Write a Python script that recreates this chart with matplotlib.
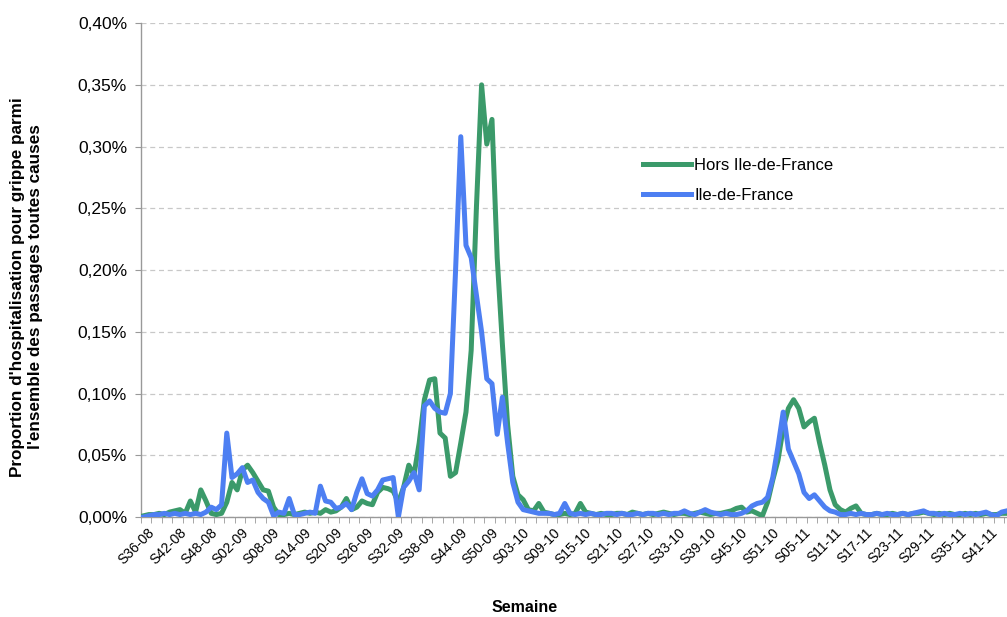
import matplotlib

matplotlib.use("Agg")
import matplotlib.pyplot as plt
from matplotlib.ticker import FuncFormatter, FixedLocator
import matplotlib.transforms as mtransforms

plt.rcParams["font.family"] = ["Liberation Sans", "DejaVu Sans"]

# ---------------------------------------------------------------------------
# Data: weekly share of flu hospitalisations among all ER visits (%)
# weeks S36-08 .. S45-11
# ---------------------------------------------------------------------------
years = [("08", 36, 52), ("09", 1, 53), ("10", 1, 52), ("11", 1, 45)]
weeks = [f"S{w:02d}-{yy}" for yy, w0, w1 in years for w in range(w0, w1 + 1)]

hors_idf = [
    0.001, 0.002, 0.002, 0.003, 0.002, 0.004, 0.005, 0.006, 0.003, 0.013,
    0.004, 0.022, 0.013, 0.003, 0.002, 0.003, 0.012, 0.028, 0.022, 0.038,
    0.042, 0.036, 0.029, 0.022, 0.021, 0.008, 0.002, 0.002, 0.003, 0.002,
    0.003, 0.004, 0.003, 0.004, 0.003, 0.006, 0.004, 0.005, 0.008, 0.015,
    0.006, 0.008, 0.013, 0.011, 0.010, 0.020, 0.024, 0.023, 0.021, 0.012,
    0.024, 0.042, 0.034, 0.060, 0.095, 0.111, 0.112, 0.068, 0.064, 0.033,
    0.036, 0.060, 0.085, 0.135, 0.250, 0.350, 0.302, 0.322, 0.210, 0.140,
    0.075, 0.033, 0.018, 0.014, 0.006, 0.005, 0.011, 0.004, 0.003, 0.002,
    0.002, 0.003, 0.002, 0.003, 0.011, 0.004, 0.003, 0.002, 0.003, 0.002,
    0.002, 0.003, 0.003, 0.002, 0.004, 0.003, 0.002, 0.003, 0.002, 0.003,
    0.004, 0.003, 0.002, 0.003, 0.003, 0.002, 0.003, 0.004, 0.003, 0.002,
    0.003, 0.003, 0.004, 0.005, 0.007, 0.008, 0.004, 0.005, 0.003, 0.001,
    0.012, 0.030, 0.046, 0.072, 0.088, 0.095, 0.088, 0.073, 0.077, 0.080,
    0.060, 0.042, 0.022, 0.010, 0.006, 0.004, 0.007, 0.009, 0.003, 0.002,
    0.002, 0.003, 0.002, 0.002, 0.003, 0.002, 0.003, 0.002, 0.003, 0.003,
    0.004, 0.003, 0.002, 0.003, 0.002, 0.003, 0.002, 0.002, 0.003, 0.002,
    0.003, 0.002, 0.003, 0.002, 0.002, 0.003, 0.003,
]

idf = [
    0.000, 0.001, 0.002, 0.002, 0.003, 0.002, 0.003, 0.002, 0.003, 0.002,
    0.003, 0.002, 0.004, 0.008, 0.006, 0.010, 0.068, 0.032, 0.035, 0.040,
    0.028, 0.030, 0.020, 0.015, 0.012, 0.001, 0.004, 0.003, 0.015, 0.002,
    0.002, 0.003, 0.004, 0.003, 0.025, 0.013, 0.012, 0.007, 0.008, 0.011,
    0.006, 0.020, 0.031, 0.019, 0.017, 0.022, 0.030, 0.031, 0.032, 0.000,
    0.024, 0.029, 0.036, 0.022, 0.090, 0.094, 0.088, 0.085, 0.084, 0.100,
    0.200, 0.308, 0.220, 0.210, 0.180, 0.150, 0.112, 0.108, 0.067, 0.097,
    0.060, 0.028, 0.012, 0.006, 0.005, 0.004, 0.003, 0.003, 0.003, 0.002,
    0.003, 0.011, 0.003, 0.002, 0.003, 0.002, 0.003, 0.002, 0.002, 0.003,
    0.003, 0.002, 0.003, 0.002, 0.002, 0.003, 0.002, 0.003, 0.003, 0.002,
    0.003, 0.002, 0.003, 0.003, 0.005, 0.003, 0.002, 0.004, 0.006, 0.004,
    0.003, 0.002, 0.003, 0.002, 0.002, 0.003, 0.005, 0.009, 0.011, 0.012,
    0.016, 0.032, 0.057, 0.085, 0.055, 0.045, 0.035, 0.020, 0.015, 0.018,
    0.013, 0.008, 0.005, 0.004, 0.002, 0.002, 0.003, 0.002, 0.003, 0.002,
    0.002, 0.003, 0.002, 0.003, 0.002, 0.002, 0.003, 0.002, 0.003, 0.004,
    0.005, 0.003, 0.003, 0.002, 0.003, 0.002, 0.002, 0.003, 0.002, 0.003,
    0.002, 0.003, 0.004, 0.002, 0.001, 0.004, 0.005,
]

series_labels = ["Hors Ile-de-France", "Ile-de-France"]
colors = ["#3b9a6a", "#4d7ff2"]

# ---------------------------------------------------------------------------
fig = plt.figure(figsize=(10.07, 6.17), dpi=100)
ax = fig.add_axes([0.140, 0.162, 0.860, 0.8006])

xs = list(range(len(weeks)))
ax.plot(xs, hors_idf, color=colors[0], lw=3.6, label=series_labels[0],
        solid_joinstyle="round", zorder=3)
ax.plot(xs, idf, color=colors[1], lw=3.6, label=series_labels[1],
        solid_joinstyle="round", zorder=4)

ax.set_xlim(-0.5, 166.04)
ax.set_ylim(0, 0.40)

# y axis
ax.set_yticks([i * 0.05 for i in range(9)])
ax.yaxis.set_major_formatter(FuncFormatter(lambda v, _: f"{v:.2f}%".replace(".", ",")))
ax.tick_params(axis="y", length=4, color="#999999", labelsize=12.5, pad=6)
ax.grid(axis="y", linestyle=(0, (4, 3)), color="#c8c8c8", lw=0.9)
ax.set_axisbelow(True)

# x axis: labels every 6 weeks, tick marks every 2 weeks
label_pos = list(range(0, len(weeks), 6))
ax.set_xticks(label_pos)
ax.set_xticklabels([weeks[i] for i in label_pos], rotation=45, ha="right",
                   rotation_mode="anchor", fontsize=10)
ax.xaxis.set_minor_locator(FixedLocator([k - 0.5 for k in range(0, 170, 2)]))
ax.tick_params(axis="x", which="major", length=0, pad=6)
ax.tick_params(axis="x", which="minor", length=4, color="#999999")
offset = mtransforms.ScaledTranslation(3 / 72, 0, fig.dpi_scale_trans)
for lbl in ax.get_xticklabels():
    lbl.set_transform(lbl.get_transform() + offset)

for side in ("top", "right"):
    ax.spines[side].set_visible(False)
for side in ("left", "bottom"):
    ax.spines[side].set_color("#999999")
    ax.spines[side].set_linewidth(1.0)

ax.set_ylabel("Proportion d'hospitalisation pour grippe parmi\n"
              "l'ensemble des passages toutes causes",
              fontsize=12.3, fontweight="bold", linespacing=1.25)
ax.yaxis.set_label_coords(-0.113, 0.466)
fig.text(525 / 1007, 1 - 607 / 617, "Semaine", fontsize=11.5, fontweight="bold",
         ha="center", va="center")

ax.legend(loc="upper left", bbox_to_anchor=(0.562, 0.757), frameon=False,
          fontsize=12, handlelength=2.9, handletextpad=0.2, labelspacing=0.9)

fig.savefig("out.png", dpi=100)
